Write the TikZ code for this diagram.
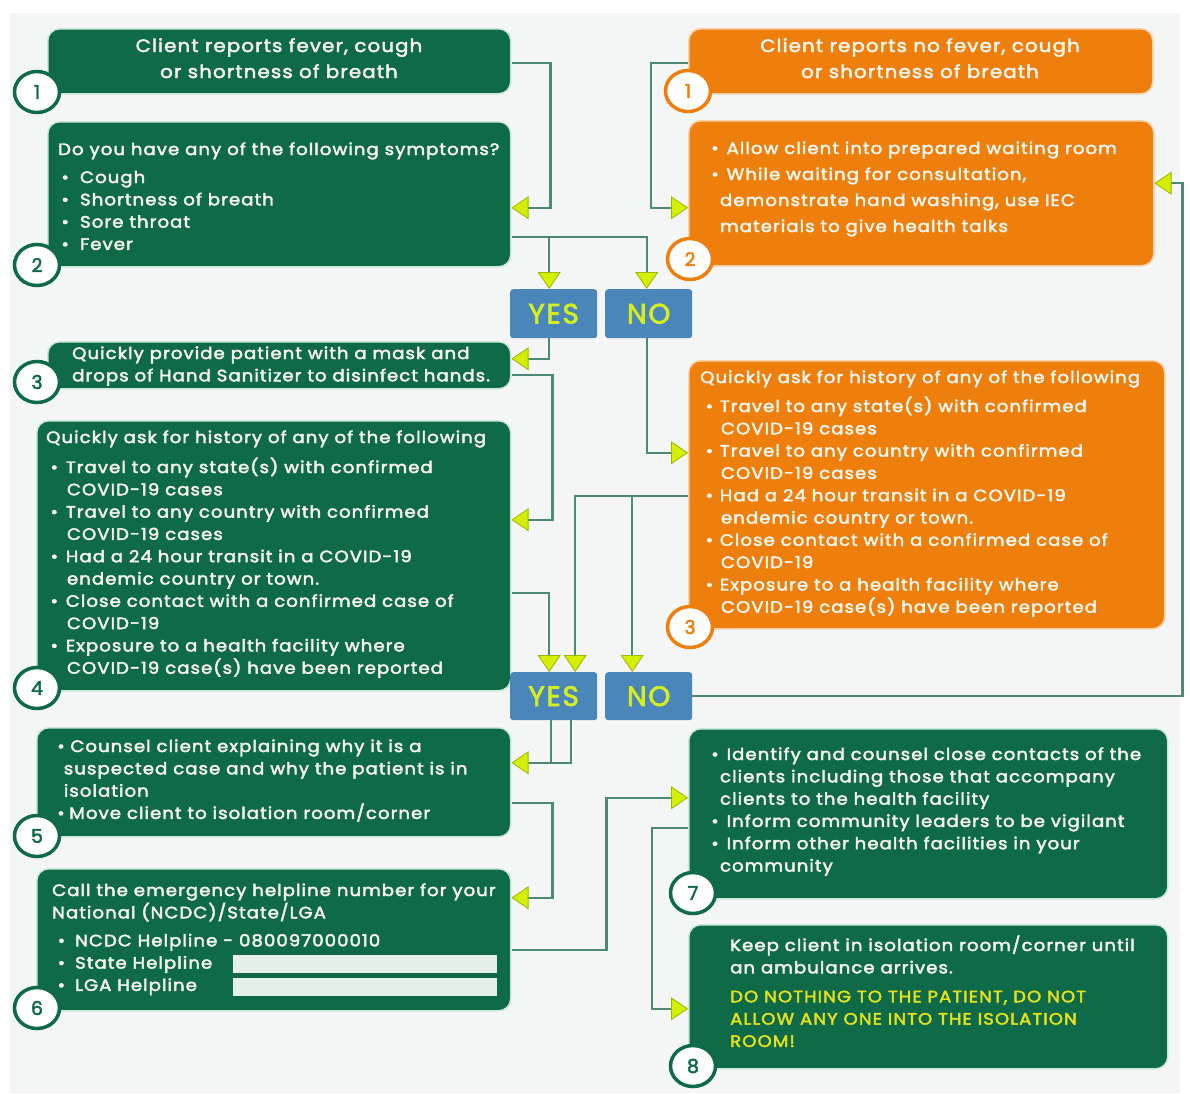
\documentclass[tikz,border=0pt]{standalone}
\usepackage{fontspec}
\setmainfont{Poppins}[LetterSpace=6,FakeBold=2.5]
\usepackage{graphicx}
\usetikzlibrary{arrows.meta,shapes.geometric,calc}
\definecolor{bg}{HTML}{F4F5F5}
\definecolor{dg}{HTML}{0F6A48}
\definecolor{dgl}{HTML}{CBE8D8}
\definecolor{og}{HTML}{EF7F0C}
\definecolor{ogl}{HTML}{F8CFA6}
\definecolor{bl}{HTML}{4A86B9}
\definecolor{yt}{HTML}{D6EE1F}
\definecolor{ay}{HTML}{D5EF00}
\definecolor{ao}{HTML}{9DB600}
\definecolor{ln}{HTML}{4C8A76}
\definecolor{wt}{HTML}{F6F6EE}
\definecolor{gy}{HTML}{E5E21C}
\definecolor{fld}{HTML}{E4EFE9}
\newcommand{\hsc}{1.095}
\newcommand{\bul}[1]{\makebox[#1][l]{\textbullet}}
\newcommand{\TB}[2]{\scalebox{\hsc}[1]{\parbox[t]{#1}{\raggedright #2}}}
\newcommand{\TC}[2]{\scalebox{\hsc}[1]{\parbox[t]{#1}{\centering #2}}}
\tikzset{
  gbox/.style={draw=dgl, line width=1.5pt, fill=dg, rounded corners=12pt, anchor=north west, inner sep=0pt},
  obox/.style={draw=ogl, line width=1.5pt, fill=og, rounded corners=12pt, anchor=north west, inner sep=0pt},
  ynbox/.style={fill=bl, rounded corners=3pt, anchor=north west, minimum width=87pt, inner sep=0pt, text=yt, font=\fontsize{28pt}{28pt}\selectfont},
  gnum/.style={ellipse, draw=dg, line width=3.5pt, fill=white, minimum width=45pt, minimum height=41pt, inner sep=0pt, text=dg, font=\fontsize{19pt}{19pt}\selectfont},
  onum/.style={gnum, draw=og, text=og},
  txt/.style={anchor=base west, inner sep=0pt, text=wt, font=\fontsize{16.5pt}{22.3pt}\selectfont},
  htxt/.style={txt, anchor=base, font=\fontsize{18pt}{26pt}\selectfont},
  conn/.style={draw=ln, line width=2.4pt},
  arr/.style={conn, -{Triangle[width=23pt,length=17pt,fill=ay,color=ao,line width=0.8pt]}},
  field/.style={fill=fld, anchor=north west, inner sep=0pt},
}
\begin{document}
\begin{tikzpicture}[x=1pt,y=-1pt]
\useasboundingbox (0,0) rectangle (1190,1093);
\fill[bg] (10,13) rectangle (1180,1093);
% boxes
\node[gbox, minimum width=463pt, minimum height=65pt] (g1) at (47,28) {};
\node[gbox, minimum width=463pt, minimum height=145pt] (g2) at (47,121) {};
\node[gbox, minimum width=463pt, minimum height=47pt] (g3) at (47,341) {};
\node[gbox, minimum width=474pt, minimum height=270pt] (g4) at (36,420) {};
\node[gbox, minimum width=474pt, minimum height=109pt] (g5) at (36,727) {};
\node[gbox, minimum width=474pt, minimum height=142pt] (g6) at (36,868) {};
\node[obox, minimum width=464pt, minimum height=65pt] (o1) at (688,28) {};
\node[obox, minimum width=465pt, minimum height=145pt] (o2) at (688,120) {};
\node[obox, minimum width=476pt, minimum height=268pt] (o3) at (688,360) {};
\node[gbox, minimum width=479pt, minimum height=170pt] (g7) at (688,728) {};
\node[gbox, minimum width=479pt, minimum height=144pt] (g8) at (688,924) {};
\node[ynbox, minimum height=49pt] (yes1) at (510,289) {YES};
\node[ynbox, minimum height=49pt] (no1) at (605,289) {NO};
\node[ynbox, minimum height=48pt] (yes2) at (510,672) {YES};
\node[ynbox, minimum height=48pt] (no2) at (605,672) {NO};
\node[field, minimum width=264pt, minimum height=18pt] (f1) at (233,955) {};
\node[field, minimum width=264pt, minimum height=18pt] (f2) at (233,978) {};
% connectors
\draw[arr] ([yshift=-1.5pt]g1.east) -- ++(39,0) |- ([yshift=-13.5pt]g2.east);
\draw[arr] ([yshift=-1.5pt]o1.west) -- ++(-37,0) |- ([yshift=-14.5pt]o2.west);
\path ([yshift=-42.5pt]g2.east) coordinate (g2b) ([xshift=-4.5pt]yes1.north) coordinate (y1n);
\draw[arr] (g2b) -| ([xshift=-2pt]no1.north);
\draw[arr] (y1n |- g2b) -- (y1n);
\draw[arr] ([xshift=-4.5pt]yes1.south) |- ([yshift=6.5pt]g3.east);
\draw[arr] ([yshift=-9.5pt]g3.east) -- ++(41,0) |- ([yshift=36pt]g4.east);
\draw[arr] ([xshift=-1.5pt]no1.south) |- ([yshift=42pt]o3.west);
\path ([yshift=-1pt]o3.west) coordinate (o3b) ([xshift=-16.5pt]no2.north) coordinate (n2n);
\draw[arr] (o3b) -| ([xshift=21.5pt]yes2.north);
\draw[arr] (n2n |- o3b) -- (n2n);
\draw[arr] ([yshift=-37pt]g4.east) -| ([xshift=-4.5pt]yes2.north);
\draw[arr] (no2.east) -- ++(490,0) |- ([yshift=10pt]o2.east);
\path ([xshift=-2.5pt]yes2.south) coordinate (y2s) ([yshift=19.5pt]g5.east) coordinate (g5a);
\draw[conn] (y2s) -- (y2s |- g5a);
\draw[arr] ([xshift=17.5pt]yes2.south) |- (g5a);
\draw[arr] ([yshift=-20.5pt]g5.east) -- ++(41,0) |- ([yshift=42pt]g6.east);
\draw[arr] ([yshift=-10pt]g6.east) -- ++(95,0) |- ([yshift=16pt]g7.west);
\draw[arr] ([yshift=-14pt]g7.west) -- ++(-36,0) |- ([yshift=-12pt]g8.west);
% number circles
\node[gnum] (n1) at (37,92) {1};
\node[gnum] (n2) at (37,265) {2};
\node[gnum] (n3) at (37,382) {3};
\node[gnum] (n4) at (37,688) {4};
\node[gnum] (n5) at (37,836) {5};
\node[gnum] (n6) at (37,1008) {6};
\node[onum] (m1) at (688,91) {1};
\node[onum] (m2) at (690,259) {2};
\node[onum] (m3) at (690,627) {3};
\node[gnum] (n7) at (693,893) {7};
\node[gnum] (n8) at (693,1066) {8};
% texts
\node[htxt] (t1) at (279,52) {\TC{420pt}{Client reports fever, cough\\or shortness of breath}};
\node[txt] (t2) at (58,155) {\TB{440pt}{Do you have any of the following symptoms?\\[5.7pt]
\hspace*{3pt}\bul{17pt}Cough\\
\hspace*{3pt}\bul{17pt}Shortness of breath\\
\hspace*{3pt}\bul{17pt}Sore throat\\
\hspace*{3pt}\bul{17pt}Fever}};
\node[txt] (t3) at (72,359) {\TB{420pt}{Quickly provide patient with a mask and\\drops of Hand Sanitizer to disinfect hands.}};
\node[txt] (t4) at (46,443) {\TB{430pt}{Quickly ask for history of any of the following\\[7.7pt]
\hspace*{4pt}\bul{14pt}Travel to any state(s) with confirmed\\
\hspace*{19pt}COVID-19 cases\\
\hspace*{4pt}\bul{14pt}Travel to any country with confirmed\\
\hspace*{19pt}COVID-19 cases\\
\hspace*{4pt}\bul{14pt}Had a 24 hour transit in a COVID-19\\
\hspace*{19pt}endemic country or town.\\
\hspace*{4pt}\bul{14pt}Close contact with a confirmed case of\\
\hspace*{19pt}COVID-19\\
\hspace*{4pt}\bul{14pt}Exposure to a health facility where\\
\hspace*{19pt}COVID-19 case(s) have been reported}};
\node[txt] (t5) at (56,752) {\TB{420pt}{\hspace*{1pt}\bul{12pt}Counsel client explaining why it is a\\
\hspace*{7pt}suspected case and why the patient is in\\
\hspace*{7pt}isolation\\
\hspace*{1pt}\bul{11pt}Move client to isolation room/corner}};
\node[txt] (t6) at (52,896) {\TB{420pt}{Call the emergency helpline number for your\\
National (NCDC)/State/LGA\\[5.7pt]
\hspace*{5pt}\bul{16pt}NCDC Helpline - 080097000010\\
\hspace*{5pt}\bul{16pt}State Helpline\\
\hspace*{5pt}\bul{16pt}LGA Helpline}};
\node[htxt] (u1) at (920,52) {\TC{420pt}{Client reports no fever, cough\\or shortness of breath}};
\node[txt] (u2) at (710,154) {\TB{410pt}{\hspace*{1pt}\bul{14pt}Allow client into prepared waiting room\\[3.7pt]
\hspace*{1pt}\bul{14pt}While waiting for consultation,\\[3.7pt]
\hspace*{9pt}demonstrate hand washing, use IEC\\[3.7pt]
\hspace*{9pt}materials to give health talks}};
\node[txt] (u3) at (700,383) {\TB{420pt}{Quickly ask for history of any of the following\\[6.7pt]
\hspace*{5pt}\bul{13pt}Travel to any state(s) with confirmed\\
\hspace*{19pt}COVID-19 cases\\
\hspace*{5pt}\bul{13pt}Travel to any country with confirmed\\
\hspace*{19pt}COVID-19 cases\\
\hspace*{5pt}\bul{13pt}Had a 24 hour transit in a COVID-19\\
\hspace*{19pt}endemic country or town.\\
\hspace*{5pt}\bul{13pt}Close contact with a confirmed case of\\
\hspace*{19pt}COVID-19\\
\hspace*{5pt}\bul{13pt}Exposure to a health facility where\\
\hspace*{19pt}COVID-19 case(s) have been reported}};
\node[txt] (u7) at (710,760) {\TB{420pt}{\hspace*{1pt}\bul{14pt}Identify and counsel close contacts of the\\
\hspace*{9pt}clients including those that accompany\\
\hspace*{9pt}clients to the health facility\\
\hspace*{1pt}\bul{14pt}Inform community leaders to be vigilant\\
\hspace*{1pt}\bul{14pt}Inform other health facilities in your\\
\hspace*{9pt}community}};
\node[txt] (u8) at (730,951) {\TB{400pt}{Keep client in isolation room/corner until\\
an ambulance arrives.\\[6.7pt]
\textcolor{gy}{DO NOTHING TO THE PATIENT, DO NOT}\\
\textcolor{gy}{ALLOW ANY ONE INTO THE ISOLATION}\\
\textcolor{gy}{ROOM!}}};
\end{tikzpicture}
\end{document}
